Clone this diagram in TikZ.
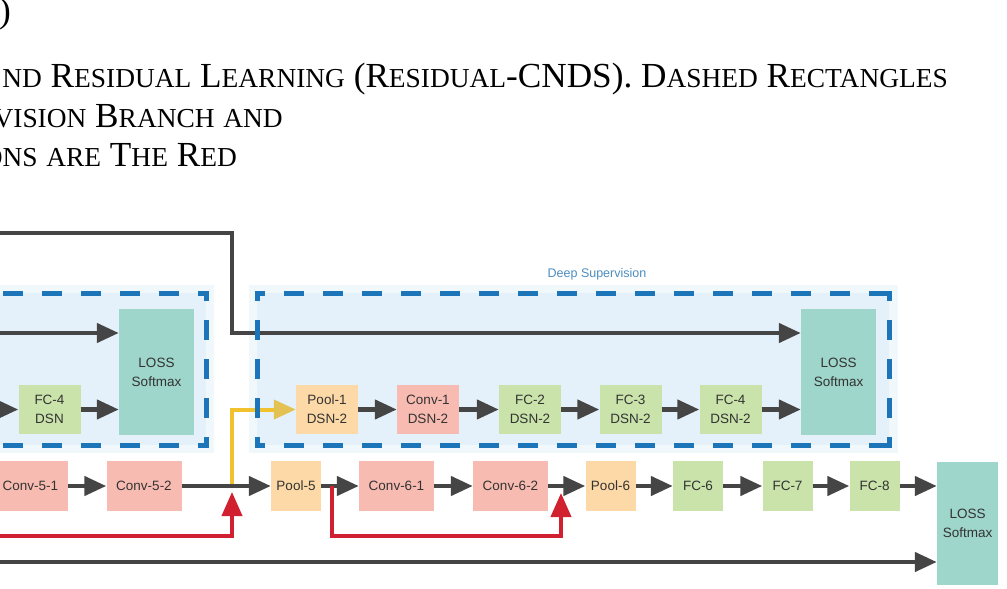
\documentclass[tikz,border=0pt]{standalone}
\usepackage{fontspec}
\setmainfont{Liberation Serif}
\newfontfamily\boxsans{Liberation Sans}
\usetikzlibrary{arrows.meta}
\definecolor{arrgray}{HTML}{454545}
\definecolor{convpink}{HTML}{F8BBB1}
\definecolor{poolor}{HTML}{FCD9A6}
\definecolor{fcgreen}{HTML}{C9E3AA}
\definecolor{lossteal}{HTML}{9ED6CB}
\definecolor{dashblue}{HTML}{1B75B8}
\definecolor{bgblue}{HTML}{E4F1FA}
\definecolor{bghalo}{HTML}{F1F8FC}
\definecolor{yline}{HTML}{F2C12E}
\definecolor{yhead}{HTML}{E3C152}
\definecolor{rline}{HTML}{D1202F}
\definecolor{txt}{HTML}{333333}
\definecolor{dslabel}{HTML}{4C8DBF}
\newcommand\Lg{\fontsize{35.2}{40}\selectfont}
\newcommand\sm[1]{{\fontsize{27.4}{30}\selectfont #1}}
\tikzset{
  blk/.style={rectangle, inner sep=0pt, text=txt, align=center,
    font=\boxsans\fontsize{13.5}{19}\selectfont},
  conv/.style={blk, fill=convpink, minimum width=75pt, minimum height=50pt},
  pool/.style={blk, fill=poolor, minimum width=50pt, minimum height=50pt},
  fc/.style={blk, fill=fcgreen, minimum width=50pt, minimum height=50pt},
  dsn/.style={blk, minimum width=62pt, minimum height=49pt},
  loss/.style={blk, fill=lossteal, minimum width=75pt, minimum height=126pt},
  arr/.style={draw=arrgray, line width=4.5pt, -{Triangle[length=22pt,width=19pt]}},
  yarr/.style={draw=yline, line width=4pt, -{Triangle[length=22pt,width=19pt,color=yhead]}},
  rarr/.style={draw=rline, line width=4pt, -{Triangle[length=24pt,width=20pt]}},
  dbox/.style={draw=dashblue, line width=5pt, dash pattern=on 20pt off 19pt, dash phase=12pt},
  dcorner/.style={draw=dashblue, line width=5pt},
  captxt/.style={inner sep=0pt, anchor=base east, font=\Lg},
}
\begin{document}
\begin{tikzpicture}[x=1pt, y=-1pt]
\useasboundingbox (0,0) rectangle (1007,589);
\clip (0,0) rectangle (1007,589);
\fill[white] (0,0) rectangle (1007,589);

% caption
\node[captxt] (c1) at (11,23) {)};
\node[captxt] (c2) at (948,87) {\sm{ND} R\sm{ESIDUAL} L\sm{EARNING} (R\sm{ESIDUAL}-CNDS). D\sm{ASHED} R\sm{ECTANGLES}};
\node[captxt] (c3) at (283,127) {\sm{VISION} B\sm{RANCH} \sm{AND}};
\node[captxt] (c4) at (237,166) {\sm{ONS} \sm{ARE} T\sm{HE} R\sm{ED}};

% backgrounds of the supervision branches
\fill[bghalo] (-20,285) rectangle (214,453);
\fill[bghalo] (249,285) rectangle (898,453);
\fill[bgblue] (-20,293) rectangle (206,445);
\fill[bgblue] (257,293) rectangle (889,445);

\node[font=\boxsans\fontsize{12.5}{14}\selectfont, text=dslabel, inner sep=0pt] (dslab) at (597,274) {Deep Supervision};

% left branch
\node[loss] (lossL) at (156.5,372) {LOSS\\Softmax};
\node[dsn, fill=fcgreen] (fc4L) at (49.5,409.5) {FC-4\\DSN};

% right branch
\node[dsn, fill=poolor] (pool1) at (327,409.5) {Pool-1\\DSN-2};
\node[dsn, fill=convpink] (conv1) at (428,409.5) {Conv-1\\DSN-2};
\node[dsn, fill=fcgreen] (fc2) at (530,409.5) {FC-2\\DSN-2};
\node[dsn, fill=fcgreen] (fc3) at (630.5,409.5) {FC-3\\DSN-2};
\node[dsn, fill=fcgreen] (fc4) at (730.5,409.5) {FC-4\\DSN-2};
\node[loss] (lossR) at (838.5,372) {LOSS\\Softmax};

% main row
\node[conv] (conv51) at (30.5,486) {Conv-5-1};
\node[conv] (conv52) at (144,486) {Conv-5-2};
\node[pool] (pool5) at (296,486) {Pool-5};
\node[conv] (conv61) at (396.5,486) {Conv-6-1};
\node[conv] (conv62) at (510.5,486) {Conv-6-2};
\node[pool] (pool6) at (610.5,486) {Pool-6};
\node[fc] (fc6) at (698,486) {FC-6};
\node[fc] (fc7) at (787.5,486) {FC-7};
\node[fc] (fc8) at (874.5,486) {FC-8};
\node[loss, minimum width=61pt, minimum height=123pt] (lossB) at (967.5,523.5) {LOSS\\Softmax};

% free ends and junctions
\coordinate (topstart) at (-10,233);
\coordinate (topcorner) at (232,233);
\coordinate (lstart) at (-10,333);
\coordinate (fstart) at (-40,409.5);
\coordinate (junc) at (232,486);
\coordinate (r1start) at (-10,536);
\coordinate (r1corner) at (232,536);
\coordinate (r1tip) at (232,492);
\coordinate (r2start) at (332,486);
\coordinate (r2c1) at (332,536);
\coordinate (r2c2) at (561,536);
\coordinate (r2tip) at (561,493);
\coordinate (bstart) at (-10,562);

% connectors
\draw[arr] (topstart) -- (topcorner) |- (lossR.west |- 0,333);
\draw[arr] (lstart) -- (lossL.west |- lstart);
\draw[arr] (fstart) -- (fc4L.west);
\draw[arr] (fc4L.east) -- (lossL.west |- fc4L.east);

\draw[yarr] (junc) |- (pool1.west);
\draw[arr] (pool1) -- (conv1);
\draw[arr] (conv1) -- (fc2);
\draw[arr] (fc2) -- (fc3);
\draw[arr] (fc3) -- (fc4);
\draw[arr] (fc4.east) -- (lossR.west |- fc4.east);

\draw[arr] (conv51) -- (conv52);
\draw[arr] (conv52) -- (pool5);
\draw[arr] (pool5) -- (conv61);
\draw[arr] (conv61) -- (conv62);
\draw[arr] (conv62) -- (pool6);
\draw[arr] (pool6) -- (fc6);
\draw[arr] (fc6) -- (fc7);
\draw[arr] (fc7) -- (fc8);
\draw[arr] (fc8.east) -- (lossB.west |- fc8.east);

\draw[rarr] (r1start) -- (r1corner) -- (r1tip);
\draw[rarr] (r2start) -- (r2c1) -- (r2c2) -- (r2tip);

\draw[arr] (bstart) -- (lossB.west |- bstart);

% dashed frames
\draw[dbox] (206,293) -- (-20,293);
\draw[dbox] (206,293) -- (206,445);
\draw[dbox] (206,445) -- (-20,445);
\draw[dcorner] (198,293) -- (206,293) -- (206,301);
\draw[dcorner] (198,445) -- (206,445) -- (206,437);

\draw[dbox] (257,293) -- (889,293);
\draw[dbox] (257,293) -- (257,445);
\draw[dbox] (257,445) -- (889,445);
\draw[dbox] (889,293) -- (889,445);
\draw[dcorner] (265,293) -- (257,293) -- (257,301);
\draw[dcorner] (881,293) -- (889,293) -- (889,301);
\draw[dcorner] (265,445) -- (257,445) -- (257,437);
\draw[dcorner] (881,445) -- (889,445) -- (889,437);
\end{tikzpicture}
\end{document}
